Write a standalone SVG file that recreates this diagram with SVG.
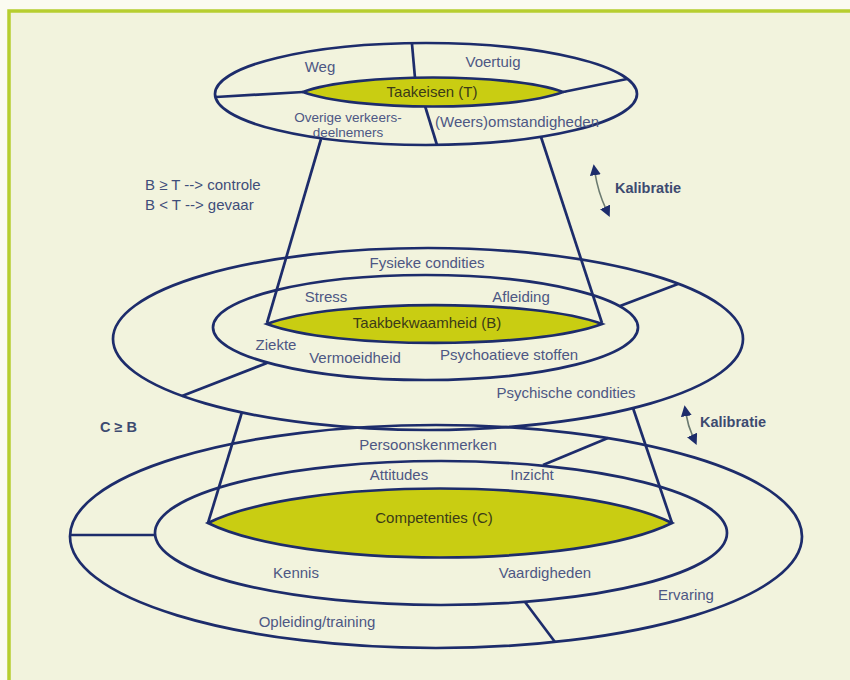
<svg xmlns="http://www.w3.org/2000/svg" width="850" height="680" viewBox="0 0 850 680">
<style>
.ln{fill:none;stroke:#1d2c6b;stroke-width:2.7}
.yl{fill:#c9cd12;stroke:#1d2c6b;stroke-width:2.7}
.t{font-family:"Liberation Sans",Arial,sans-serif;font-size:15px;fill:#4d5784;text-anchor:middle}
.d{font-family:"Liberation Sans",Arial,sans-serif;font-size:15px;fill:#3b3b18;text-anchor:middle}
.k{font-family:"Liberation Sans",Arial,sans-serif;font-size:14.5px;font-weight:bold;fill:#3d4a70}
.s{font-family:"Liberation Sans",Arial,sans-serif;font-size:15px;fill:#3f4d7a}
.ar{fill:none;stroke:#6b7a70;stroke-width:1.6;marker-start:url(#ah);marker-end:url(#ah)}
</style>
<defs>
<marker id="ah" viewBox="0 0 10 10" refX="2" refY="5" markerWidth="11" markerHeight="11" markerUnits="userSpaceOnUse" orient="auto-start-reverse">
<path d="M0,0 L10,5 L0,10 Z" fill="#1d2c6b"/>
</marker>
</defs>
<rect x="0" y="0" width="850" height="680" fill="#fbfbf1"/>
<rect x="9" y="11" width="900" height="900" fill="#f2f3dd" stroke="#b7ce2f" stroke-width="3.5"/>

<g id="connectors">
<line class="ln" x1="321" y1="139" x2="267" y2="323"/>
<line class="ln" x1="541" y1="137" x2="602" y2="323"/>
<line class="ln" x1="242" y1="412" x2="208" y2="523"/>
<line class="ln" x1="633" y1="408" x2="672" y2="523"/>
<path class="ar" d="M595,173 Q598,192 606,209"/>
<path class="ar" d="M686,414 Q688,426 693,437"/>
</g>

<g id="taakeisen">
<ellipse class="ln" cx="426" cy="94" rx="211" ry="51"/>
<line class="ln" x1="216" y1="97" x2="303" y2="92"/>
<line class="ln" x1="563" y1="92" x2="627" y2="79"/>
<line class="ln" x1="412" y1="44" x2="415" y2="78"/>
<line class="ln" x1="425" y1="106" x2="437" y2="145"/>
<path class="yl" d="M303,92 C355,72.7 511,72.7 563,92 C511,111.3 355,111.3 303,92 Z"/>
<text class="t" x="320" y="72">Weg</text>
<text class="t" x="493" y="67">Voertuig</text>
<text class="d" x="432" y="97">Taakeisen (T)</text>
<text class="t" x="348" y="122" style="font-size:13.5px">Overige verkeers-</text>
<text class="t" x="348" y="137" style="font-size:13.5px">deelnemers</text>
<text class="t" x="517" y="127">(Weers)omstandigheden</text>
</g>

<g id="taakbekwaamheid">
<ellipse class="ln" cx="428" cy="339" rx="315" ry="91"/>
<ellipse class="ln" cx="425.5" cy="327.5" rx="212.5" ry="52.5"/>
<line class="ln" x1="182" y1="396" x2="267" y2="363"/>
<line class="ln" x1="620" y1="306" x2="678" y2="284"/>
<path class="yl" d="M267,324 C334,298.7 535,298.7 602,324 C535,349.3 334,349.3 267,324 Z"/>
<text class="t" x="427" y="268">Fysieke condities</text>
<text class="t" x="326" y="302">Stress</text>
<text class="t" x="521" y="302">Afleiding</text>
<text class="d" x="427" y="328">Taakbekwaamheid (B)</text>
<text class="t" x="276" y="350">Ziekte</text>
<text class="t" x="355" y="363">Vermoeidheid</text>
<text class="t" x="509" y="360">Psychoatieve stoffen</text>
<text class="t" x="566" y="398">Psychische condities</text>
</g>

<g id="competenties">
<ellipse class="ln" cx="436" cy="536.5" rx="366" ry="111.5"/>
<ellipse class="ln" cx="441" cy="533" rx="286" ry="72"/>
<line class="ln" x1="71" y1="535" x2="155" y2="535"/>
<line class="ln" x1="543" y1="465" x2="608" y2="438"/>
<line class="ln" x1="525" y1="602" x2="555" y2="642"/>
<path class="yl" d="M208,523 C301,477 579,477 672,523 C579,569 301,569 208,523 Z"/>
<text class="t" x="428" y="450">Persoonskenmerken</text>
<text class="t" x="399" y="480">Attitudes</text>
<text class="t" x="532" y="480">Inzicht</text>
<text class="d" x="434" y="523">Competenties (C)</text>
<text class="t" x="296" y="578">Kennis</text>
<text class="t" x="545" y="578">Vaardigheden</text>
<text class="t" x="686" y="600">Ervaring</text>
<text class="t" x="317" y="627">Opleiding/training</text>
</g>

<g id="annotations">
<text class="s" x="145" y="190">B ≥ T --&gt; controle</text>
<text class="s" x="145" y="210">B &lt; T --&gt; gevaar</text>
<text class="k" x="615" y="193">Kalibratie</text>
<text class="k" x="700" y="427">Kalibratie</text>
<text class="k" x="100" y="432">C ≥ B</text>
</g>
</svg>
